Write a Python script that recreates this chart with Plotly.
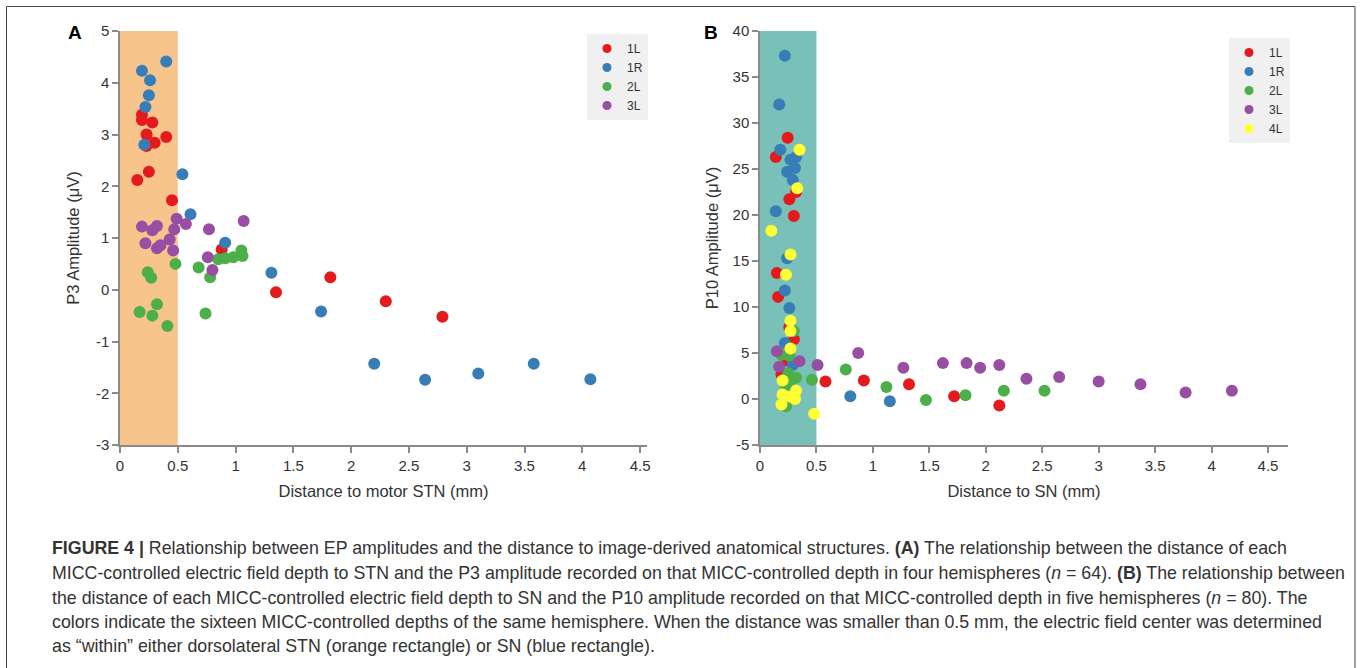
import plotly.graph_objects as go

W, H = 1360, 668

# ---------------- Panel A data: distance to motor STN (mm) vs P3 amplitude (uV)
a_1L_x = [0.19, 0.19, 0.28, 0.23, 0.30, 0.40, 0.23, 0.25, 0.15, 0.45, 0.88, 1.35, 1.82, 2.30, 2.79]
a_1L_y = [3.38, 3.28, 3.23, 3.00, 2.84, 2.95, 2.78, 2.28, 2.12, 1.73, 0.78, -0.05, 0.24, -0.22, -0.52]
a_1R_x = [0.19, 0.40, 0.26, 0.25, 0.22, 0.21, 0.54, 0.61, 0.91, 1.31, 1.74, 2.20, 2.64, 3.10, 3.58, 4.07]
a_1R_y = [4.23, 4.41, 4.05, 3.76, 3.53, 2.80, 2.23, 1.46, 0.91, 0.33, -0.42, -1.43, -1.74, -1.62, -1.43, -1.73]
a_2L_x = [0.48, 0.68, 0.78, 0.24, 0.27, 0.85, 0.91, 0.98, 1.05, 1.06, 0.17, 0.32, 0.28, 0.41, 0.74]
a_2L_y = [0.50, 0.43, 0.24, 0.34, 0.23, 0.59, 0.61, 0.63, 0.76, 0.65, -0.43, -0.28, -0.50, -0.70, -0.46]
a_3L_x = [0.19, 0.28, 0.32, 0.49, 0.47, 0.57, 0.77, 1.07, 0.22, 0.32, 0.35, 0.43, 0.46, 0.76, 0.80]
a_3L_y = [1.22, 1.15, 1.23, 1.37, 1.17, 1.27, 1.17, 1.33, 0.90, 0.80, 0.86, 0.97, 0.76, 0.63, 0.38]

# ---------------- Panel B data: distance to SN (mm) vs P10 amplitude (uV)
b_1L_x = [0.245, 0.14, 0.32, 0.26, 0.30, 0.15, 0.16, 0.26, 0.30, 0.24, 0.19, 0.58, 0.92, 1.32, 1.72, 2.12]
b_1L_y = [28.4, 26.3, 22.5, 21.7, 19.9, 13.7, 11.1, 7.8, 6.5, 4.2, 2.7, 1.9, 2.0, 1.6, 0.3, -0.7]
b_1R_x = [0.22, 0.17, 0.18, 0.27, 0.32, 0.31, 0.24, 0.29, 0.14, 0.24, 0.22, 0.26, 0.22, 0.29, 0.80, 1.15]
b_1R_y = [37.3, 32.0, 27.1, 26.0, 26.3, 25.1, 24.7, 23.8, 20.4, 15.3, 11.8, 9.9, 6.1, 3.7, 0.3, -0.25]
b_2L_x = [0.30, 0.19, 0.26, 0.25, 0.32, 0.27, 0.46, 0.76, 0.23, 0.23, 1.12, 1.47, 1.82, 2.16, 2.52]
b_2L_y = [7.4, 4.8, 4.7, 2.8, 2.3, 2.1, 2.1, 3.2, 1.5, -0.8, 1.3, -0.1, 0.4, 0.9, 0.9]
b_3L_x = [0.15, 0.35, 0.17, 0.51, 0.87, 1.27, 1.62, 1.83, 1.95, 2.12, 2.36, 2.65, 3.00, 3.37, 3.77, 4.18]
b_3L_y = [5.2, 4.1, 3.5, 3.7, 5.0, 3.4, 3.9, 3.9, 3.4, 3.7, 2.2, 2.4, 1.9, 1.6, 0.7, 0.9]
b_4L_x = [0.10, 0.35, 0.33, 0.27, 0.23, 0.27, 0.27, 0.27, 0.20, 0.20, 0.27, 0.32, 0.31, 0.19, 0.48]
b_4L_y = [18.3, 27.1, 22.9, 15.7, 13.5, 8.5, 7.4, 5.5, 2.0, 0.5, 0.25, 0.9, 0.0, -0.6, -1.6]

series_names = ["1L", "1R", "2L", "3L", "4L"]
colors = {"1L": "#e41a1c", "1R": "#377eb8", "2L": "#4daf4a", "3L": "#984ea3", "4L": "#ffff33"}

panelA = {"1L": (a_1L_x, a_1L_y), "1R": (a_1R_x, a_1R_y), "2L": (a_2L_x, a_2L_y), "3L": (a_3L_x, a_3L_y)}
panelB = {"1L": (b_1L_x, b_1L_y), "1R": (b_1R_x, b_1R_y), "2L": (b_2L_x, b_2L_y),
          "3L": (b_3L_x, b_3L_y), "4L": (b_4L_x, b_4L_y)}

xA_ticks = [0, 0.5, 1, 1.5, 2, 2.5, 3, 3.5, 4, 4.5]
yA_ticks = [-3, -2, -1, 0, 1, 2, 3, 4, 5]
yB_ticks = [-5, 0, 5, 10, 15, 20, 25, 30, 35, 40]
within_limit = 0.5

caption_lines = [
    "<b>FIGURE 4 |</b> Relationship between EP amplitudes and the distance to image-derived anatomical structures. <b>(A)</b> The relationship between the distance of each",
    "MICC-controlled electric field depth to STN and the P3 amplitude recorded on that MICC-controlled depth in four hemispheres (<i>n</i> = 64). <b>(B)</b> The relationship between",
    "the distance of each MICC-controlled electric field depth to SN and the P10 amplitude recorded on that MICC-controlled depth in five hemispheres (<i>n</i> = 80). The",
    "colors indicate the sixteen MICC-controlled depths of the same hemisphere. When the distance was smaller than 0.5 mm, the electric field center was determined",
    "as “within” either dorsolateral STN (orange rectangle) or SN (blue rectangle).",
]

def px_x(p):
    return p / W

def px_y(p):
    return 1 - p / H

fig = go.Figure()
MS = 12
for name, (xs, ys) in panelA.items():
    fig.add_trace(go.Scatter(x=xs, y=ys, mode="markers", name=name, xaxis="x", yaxis="y",
                             marker=dict(color=colors[name], size=MS, line=dict(width=0)),
                             showlegend=False))
    fig.add_trace(go.Scatter(x=[None], y=[None], mode="markers", name=name, xaxis="x", yaxis="y",
                             marker=dict(color=colors[name], size=9), legend="legend"))
for name, (xs, ys) in panelB.items():
    fig.add_trace(go.Scatter(x=xs, y=ys, mode="markers", name=name, xaxis="x2", yaxis="y2",
                             marker=dict(color=colors[name], size=MS, line=dict(width=0)),
                             showlegend=False))
    fig.add_trace(go.Scatter(x=[None], y=[None], mode="markers", name=name, xaxis="x2", yaxis="y2",
                             marker=dict(color=colors[name], size=9), legend="legend2"))

axis_common = dict(showgrid=False, zeroline=False, showline=True, linecolor="#8a8a8a", linewidth=1.5,
                   ticks="outside", ticklen=6, tickcolor="#8a8a8a", tickwidth=1.5, automargin=False,
                   tickfont=dict(size=15, color="#333333"))

fig.update_layout(
    width=W, height=H, margin=dict(l=0, r=0, t=0, b=0, pad=0),
    paper_bgcolor="white", plot_bgcolor="white",
    font=dict(family="Liberation Sans, Arial, sans-serif", color="#333333"),
    xaxis=dict(domain=[px_x(120), px_x(647)], range=[0, 4.56], anchor="y",
               tickvals=xA_ticks, ticktext=[f"{v:g}" for v in xA_ticks],
               title=dict(text="Distance to motor STN (mm)", font=dict(size=16.5, color="#333333"), standoff=13),
               **axis_common),
    yaxis=dict(domain=[px_y(445), px_y(31)], range=[-3, 5], anchor="x",
               tickvals=yA_ticks, ticktext=[f"{v:g}" for v in yA_ticks],
               title=dict(text="P3 Amplitude (μV)", font=dict(size=16.5, color="#333333"), standoff=12),
               **axis_common),
    xaxis2=dict(domain=[px_x(760), px_x(1288)], range=[0, 4.677], anchor="y2",
                tickvals=xA_ticks, ticktext=[f"{v:g}" for v in xA_ticks],
                title=dict(text="Distance to SN (mm)", font=dict(size=16.5, color="#333333"), standoff=13),
                **axis_common),
    yaxis2=dict(domain=[px_y(445), px_y(31)], range=[-5, 40], anchor="x2",
                tickvals=yB_ticks, ticktext=[f"{v:g}" for v in yB_ticks],
                title=dict(text="P10 Amplitude (μV)", font=dict(size=16.5, color="#333333"), standoff=10),
                **axis_common),
    legend=dict(x=px_x(587), y=px_y(34), xanchor="left", yanchor="top", bgcolor="#f0f0f0",
                font=dict(size=12, color="#333333"), tracegroupgap=0, itemwidth=30),
    legend2=dict(x=px_x(1229), y=px_y(38), xanchor="left", yanchor="top", bgcolor="#f0f0f0",
                 font=dict(size=12, color="#333333"), tracegroupgap=0, itemwidth=30),
)

# shaded "within" rectangles
fig.add_shape(type="rect", xref="x", yref="y domain", x0=0, x1=within_limit, y0=0, y1=1,
              fillcolor="#f7c48c", line=dict(width=0), layer="below")
fig.add_shape(type="rect", xref="x2", yref="y2 domain", x0=0, x1=within_limit, y0=0, y1=1,
              fillcolor="#78c0b8", line=dict(width=0), layer="below")

# outer frame
fig.add_shape(type="rect", xref="paper", yref="paper", x0=px_x(6.5), x1=px_x(1355), y0=px_y(672), y1=px_y(6.5),
              line=dict(color="#444444", width=1), fillcolor="rgba(0,0,0,0)")

# panel letters
fig.add_annotation(x=px_x(75), y=px_y(32), xref="paper", yref="paper", text="<b>A</b>", showarrow=False,
                   font=dict(size=19, color="#000000"), xanchor="center", yanchor="middle")
fig.add_annotation(x=px_x(711), y=px_y(32), xref="paper", yref="paper", text="<b>B</b>", showarrow=False,
                   font=dict(size=19, color="#000000"), xanchor="center", yanchor="middle")

# caption
line_y = [548, 573, 598, 622, 646]
for txt, yy in zip(caption_lines, line_y):
    fig.add_annotation(x=px_x(50), y=px_y(yy), xref="paper", yref="paper", text=txt, showarrow=False,
                       xanchor="left", yanchor="middle", align="left",
                       font=dict(size=17.8, color="#333333", family="Liberation Sans, Arial, sans-serif"))

fig.write_html("out.html", config={"displayModeBar": False},
               post_script="document.body.style.margin='0';document.body.style.overflow='hidden';")
